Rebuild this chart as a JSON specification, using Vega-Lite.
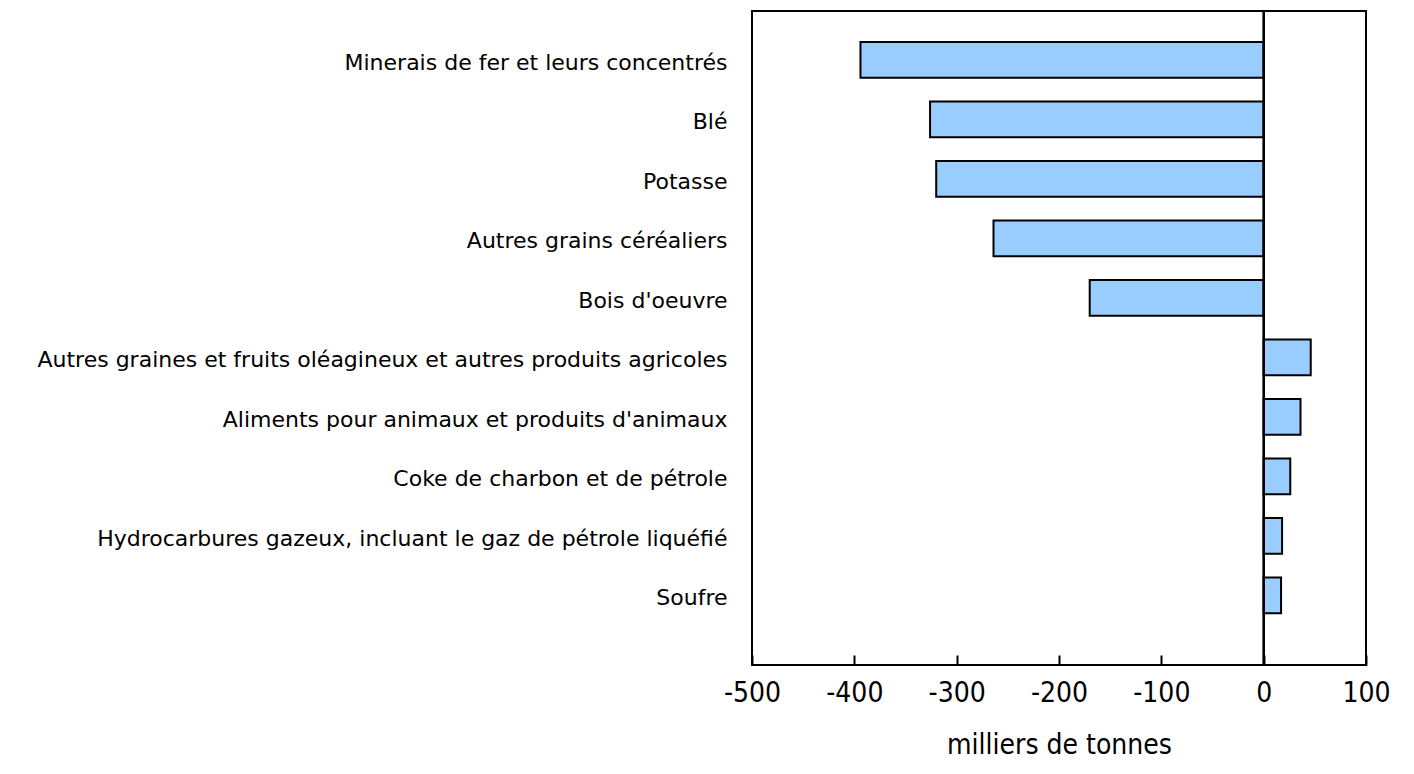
{
  "$schema": "https://vega.github.io/schema/vega-lite/v6.json",
  "autosize": {"type": "none"},
  "padding": {"left": 752, "top": 11, "right": 48, "bottom": 109},
  "width": 614,
  "height": 654,
  "background": "white",
  "config": {
    "view": {"stroke": "black", "strokeWidth": 2},
    "font": "DejaVu Sans"
  },
  "data": {
    "values": [
      {"produit": "Minerais de fer et leurs concentrés", "valeur": -394},
      {"produit": "Blé", "valeur": -326},
      {"produit": "Potasse", "valeur": -320},
      {"produit": "Autres grains céréaliers", "valeur": -264},
      {"produit": "Bois d'oeuvre", "valeur": -170},
      {"produit": "Autres graines et fruits oléagineux et autres produits agricoles", "valeur": 46},
      {"produit": "Aliments pour animaux et produits d'animaux", "valeur": 36},
      {"produit": "Coke de charbon et de pétrole", "valeur": 26},
      {"produit": "Hydrocarbures gazeux, incluant le gaz de pétrole liquéfié", "valeur": 18},
      {"produit": "Soufre", "valeur": 17}
    ]
  },
  "layer": [
    {
      "mark": {"type": "bar", "color": "#99CCFF", "stroke": "black", "strokeWidth": 2},
      "encoding": {
        "y": {
          "field": "produit",
          "type": "nominal",
          "sort": null,
          "title": null,
          "scale": {"paddingInner": 0.4, "paddingOuter": 0.695, "align": 0.375},
          "axis": {
            "ticks": false,
            "domain": false,
            "labelPadding": 25,
            "labelOffset": 3,
            "labelLimit": 800,
            "labelFontSize": 22,
            "labelColor": "black",
            "labelFont": "DejaVu Sans"
          }
        },
        "x": {
          "field": "valeur",
          "type": "quantitative",
          "title": "milliers de tonnes",
          "scale": {"domain": [-500, 100], "nice": false},
          "axis": {
            "values": [-500, -400, -300, -200, -100, 0, 100],
            "labelExpr": "'' + datum.value",
            "labelFlush": false,
            "grid": false,
            "domain": false,
            "offset": -10,
            "tickSize": 10,
            "tickWidth": 2,
            "tickColor": "black",
            "labelPadding": 14,
            "labelFontSize": 28,
            "labelFont": "DejaVu Sans Condensed",
            "labelColor": "black",
            "titleFontSize": 28,
            "titleFont": "DejaVu Sans Condensed",
            "titleFontWeight": "normal",
            "titleColor": "black",
            "titlePadding": 24
          }
        }
      }
    },
    {
      "mark": {"type": "rule", "color": "black", "strokeWidth": 1.5},
      "encoding": {"x": {"datum": 0}}
    }
  ]
}
